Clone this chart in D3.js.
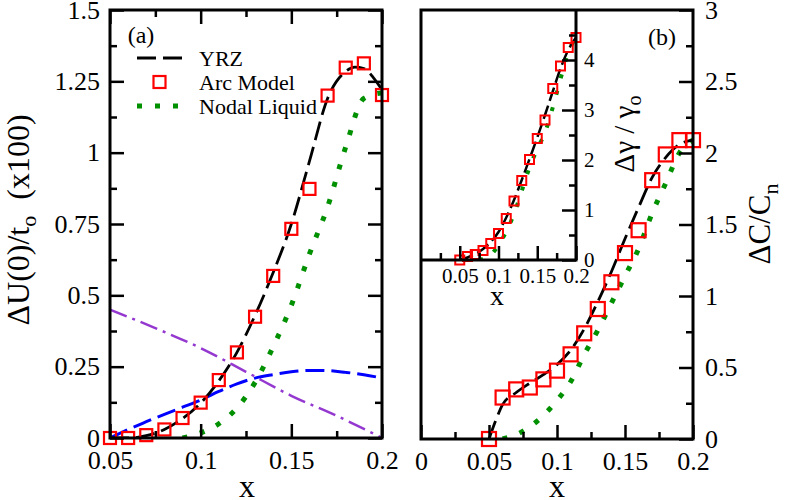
<!DOCTYPE html>
<html><head><meta charset="utf-8">
<script src="https://cdn.jsdelivr.net/npm/d3@7"></script>
<style>
body{margin:0;background:#fff;}
svg{display:block;font-family:"Liberation Serif","Times New Roman",serif;}
</style></head><body>
<svg id="c" width="789" height="500"></svg>
<script>
// ---------- data ----------
const xGrid = [0.05,0.06,0.07,0.08,0.09,0.10,0.11,0.12,0.13,0.14,0.15,0.16,0.17,0.18,0.19,0.20];

// panel (a)
const arcA = [0,0,0.01,0.03,0.07,0.124,0.203,0.30,0.425,0.568,0.733,0.873,1.20,1.298,1.313,1.202];
const yrzAx = [0.05,0.06,0.07,0.08,0.09,0.10,0.11,0.12,0.13,0.14,0.15,0.16,0.17,0.18,0.185,0.19,0.195,0.20];
const yrzAy = [0,0,0.008,0.03,0.068,0.122,0.20,0.30,0.43,0.58,0.75,0.97,1.19,1.285,1.30,1.295,1.265,1.22];
const nodAx = [0.09,0.10,0.11,0.12,0.13,0.14,0.15,0.16,0.17,0.18,0.19,0.20];
const nodAy = [0,0.018,0.05,0.105,0.195,0.32,0.465,0.645,0.81,1.02,1.19,1.21];
const blueA = [0,0.03,0.057,0.083,0.108,0.133,0.163,0.19,0.21,0.222,0.232,0.237,0.236,0.23,0.222,0.21];
const violAx = [0.05,0.075,0.10,0.125,0.15,0.175,0.20];
const violAy = [0.45,0.385,0.315,0.232,0.148,0.078,0.0];

// panel (b) main
const arcB = [0,0.29,0.347,0.36,0.417,0.478,0.592,0.739,0.909,1.096,1.30,1.46,1.81,1.99,2.09,2.09];
const yrzBx = [0.05,0.055,0.06,0.07,0.08,0.09,0.10,0.11,0.12,0.13,0.14,0.15,0.16,0.17,0.18,0.19,0.20];
const yrzBy = [0,0.13,0.24,0.325,0.39,0.45,0.52,0.62,0.77,0.96,1.17,1.40,1.62,1.83,1.97,2.06,2.09];
const nodBx = [0.06,0.07,0.08,0.09,0.10,0.11,0.12,0.13,0.14,0.15,0.16,0.17,0.18,0.19,0.20];
const nodBy = [0,0.03,0.085,0.165,0.27,0.40,0.59,0.76,0.95,1.14,1.33,1.58,1.79,2.0,2.09];

// panel (b) inset
const arcI = [0,0.07,0.11,0.19,0.33,0.53,0.83,1.18,1.59,2.01,2.43,2.80,3.43,3.88,4.25,4.45];
const yrzI = [0,0.05,0.12,0.22,0.36,0.56,0.85,1.20,1.60,2.02,2.45,2.90,3.37,3.83,4.20,4.45];
const nodIx = [0.075,0.08,0.09,0.10,0.11,0.12,0.13,0.14,0.15,0.16,0.17,0.18,0.19,0.20];
const nodIy = [0,0.02,0.10,0.30,0.57,0.92,1.38,1.85,2.22,2.55,3.05,3.62,4.15,4.45];

// ticks
const xTickA = [0.05,0.10,0.15,0.20], xMinA = [0.075,0.125,0.175];
const yTickA = [0,0.25,0.5,0.75,1,1.25,1.5], yMinA = [0.125,0.375,0.625,0.875,1.125,1.375];
const xTickB = [0,0.05,0.10,0.15,0.20], xMinB = [0.025,0.075,0.125,0.175];
const yTickB = [0,0.5,1,1.5,2,2.5,3], yMinB = [0.25,0.75,1.25,1.75,2.25,2.75];
const xTickI = [0.05,0.10,0.15,0.20], xMinI = [0.025,0.075,0.125,0.175];
const yTickI = [0,1,2,3,4], yMinI = [0.5,1.5,2.5,3.5,4.5];
const legendLabels = ["YRZ","Arc Model","Nodal Liquid"];

// ---------- drawing ----------
const svg = d3.select("#c");
const RED="#ff0000", GREEN="#009000", BLUE="#0000ff", VIOL="#9438d0";

const xa = d3.scaleLinear([0.05,0.2],[110,382]);
const ya = d3.scaleLinear([0,1.5],[438,10]);
const xb = d3.scaleLinear([0,0.2],[421,693]);
const yb = d3.scaleLinear([0,3],[439,10]);
const xi = d3.scaleLinear([0,0.2],[421,576]);
const yi = d3.scaleLinear([0,5],[260,10]);

const defs = svg.append("defs");
function clip(id,x0,y0,x1,y1){
  defs.append("clipPath").attr("id",id).append("rect")
    .attr("x",x0).attr("y",y0).attr("width",x1-x0).attr("height",y1-y0);
}
clip("ca",110,10,382,438); clip("cb",421,10,693,439); clip("ci",421,10,576,260);

function curve(g,xs,ys,sx,sy,color,w,dash,cap){
  const pts = xs.map((x,i)=>[x,ys[i]]);
  g.append("path").attr("d",d3.line().x(d=>sx(d[0])).y(d=>sy(d[1])).curve(d3.curveMonotoneX)(pts))
    .attr("fill","none").attr("stroke",color).attr("stroke-width",w)
    .attr("stroke-dasharray",dash).attr("stroke-linecap",cap||"butt");
}
function squares(g,xs,ys,sx,sy,s,w){
  g.selectAll(null).data(xs.map((x,i)=>[x,ys[i]])).enter().append("rect")
    .attr("x",d=>sx(d[0])-s/2).attr("y",d=>sy(d[1])-s/2).attr("width",s).attr("height",s)
    .attr("fill","none").attr("stroke",RED).attr("stroke-width",w);
}
const DASH="19,7", DOT="5,13", DASHDOT="18,6,3,6";

// panel (a) curves
const ga = svg.append("g").attr("clip-path","url(#ca)");
curve(ga,violAx,violAy,xa,ya,VIOL,2.5,DASHDOT);
curve(ga,xGrid,blueA,xa,ya,BLUE,3,DASH);
curve(ga,nodAx,nodAy,xa,ya,GREEN,5,DOT);
curve(ga,yrzAx,yrzAy,xa,ya,"#000",2.8,DASH);
squares(svg,xGrid,arcA,xa,ya,12,2.2);

// panel (b) curves
const gb = svg.append("g").attr("clip-path","url(#cb)");
curve(gb,nodBx,nodBy,xb,yb,GREEN,5,DOT);
curve(gb,yrzBx,yrzBy,xb,yb,"#000",2.8,DASH);
squares(svg,xGrid,arcB,xb,yb,14,2.2);

// inset
const gi = svg.append("g").attr("clip-path","url(#ci)");
curve(gi,nodIx,nodIy,xi,yi,GREEN,4,"4,13");
curve(gi,xGrid,yrzI,xi,yi,"#000",2.5,"14,5");
squares(svg,xGrid,arcI,xi,yi,9,2);

// axes
function ax(gen,tx,ty,fs){
  const g = svg.append("g").attr("transform",`translate(${tx},${ty})`).call(gen);
  g.select(".domain").remove();
  g.selectAll(".tick line").attr("stroke","#000").attr("stroke-width",2.5);
  g.attr("font-family",null).attr("font-size",fs||26);
  g.selectAll("text").attr("fill","#000");
  return g;
}
const fmt = d=>String(d);
// (a)
ax(d3.axisLeft(ya).tickValues(yTickA).tickSize(-14).tickPadding(10).tickFormat(fmt),110,0);
ax(d3.axisLeft(ya).tickValues(yMinA).tickSize(-7).tickFormat(""),110,0);
ax(d3.axisRight(ya).tickValues(yTickA).tickSize(-14).tickFormat(""),382,0);
ax(d3.axisRight(ya).tickValues(yMinA).tickSize(-7).tickFormat(""),382,0);
ax(d3.axisBottom(xa).tickValues(xTickA).tickSize(-14).tickPadding(13).tickFormat(fmt),0,438);
ax(d3.axisBottom(xa).tickValues(xMinA).tickSize(-7).tickFormat(""),0,438);
ax(d3.axisTop(xa).tickValues(xTickA).tickSize(-14).tickFormat(""),0,10);
ax(d3.axisTop(xa).tickValues(xMinA).tickSize(-7).tickFormat(""),0,10);
// (b)
ax(d3.axisRight(yb).tickValues(yTickB).tickSize(-14).tickPadding(12).tickFormat(fmt),693,0);
ax(d3.axisRight(yb).tickValues(yMinB).tickSize(-7).tickFormat(""),693,0);
ax(d3.axisBottom(xb).tickValues(xTickB).tickSize(-14).tickPadding(13).tickFormat(fmt),0,439);
ax(d3.axisBottom(xb).tickValues(xMinB).tickSize(-7).tickFormat(""),0,439);
// inset
ax(d3.axisRight(yi).tickValues(yTickI).tickSize(-14).tickPadding(8).tickFormat(fmt),576,0,21);
ax(d3.axisRight(yi).tickValues(yMinI).tickSize(-7).tickFormat(""),576,0);
ax(d3.axisBottom(xi).tickValues(xTickI).tickSize(-14).tickPadding(8).tickFormat(fmt),0,260,21);
ax(d3.axisBottom(xi).tickValues(xMinI).tickSize(-7).tickFormat(""),0,260);

// frames
svg.append("rect").attr("x",xa(0.05)).attr("y",ya(1.5)).attr("width",xa(0.2)-xa(0.05)).attr("height",ya(0)-ya(1.5))
  .attr("fill","none").attr("stroke","#000").attr("stroke-width",3);
svg.append("rect").attr("x",xb(0)).attr("y",yb(3)).attr("width",xb(0.2)-xb(0)).attr("height",yb(0)-yb(3))
  .attr("fill","none").attr("stroke","#000").attr("stroke-width",3);
svg.append("path").attr("d",`M${xi(0)},${yi(0)}H${xi(0.2)}V${yi(5)}`)
  .attr("fill","none").attr("stroke","#000").attr("stroke-width",3);

// legend (a)
const lg = svg.append("g").attr("font-size",22);
const lx0=137, lx1=182, lt=199, ly=[58,82,106];
lg.append("line").attr("x1",lx0).attr("x2",lx1).attr("y1",ly[0]).attr("y2",ly[0])
  .attr("stroke","#000").attr("stroke-width",2.8).attr("stroke-dasharray",DASH);
lg.append("rect").attr("x",(lx0+lx1)/2-6).attr("y",ly[1]-6).attr("width",12).attr("height",12)
  .attr("fill","none").attr("stroke",RED).attr("stroke-width",2.2);
lg.append("line").attr("x1",lx0).attr("x2",lx1+5).attr("y1",ly[2]).attr("y2",ly[2])
  .attr("stroke",GREEN).attr("stroke-width",5).attr("stroke-dasharray",DOT);
legendLabels.forEach((t,i)=>lg.append("text").attr("x",lt).attr("y",ly[i]).attr("dy","0.35em").text(t));

// panel labels
svg.append("text").attr("x",141).attr("y",35).attr("dy","0.35em").attr("text-anchor","middle").attr("font-size",24).text("(a)");
svg.append("text").attr("x",662).attr("y",37).attr("dy","0.35em").attr("text-anchor","middle").attr("font-size",24).text("(b)");

// axis titles
svg.append("text").attr("x",247).attr("y",497).attr("text-anchor","middle").attr("font-size",32).text("x");
svg.append("text").attr("x",557).attr("y",497).attr("text-anchor","middle").attr("font-size",32).text("x");
svg.append("text").attr("x",497).attr("y",305).attr("text-anchor","middle").attr("font-size",28).text("x");

const yl = svg.append("text").attr("transform","translate(29,220) rotate(-90)").attr("text-anchor","middle").attr("font-size",32);
yl.append("tspan").text("ΔU(0)/t");
yl.append("tspan").attr("font-size",22).attr("dy",7).text("o");
yl.append("tspan").attr("dy",-7).text("\u00a0\u00a0(x100)");

const yr = svg.append("text").attr("transform","translate(770,224) rotate(-90)").attr("text-anchor","middle").attr("font-size",31);
yr.append("tspan").text("ΔC/C");
yr.append("tspan").attr("font-size",22).attr("dy",8).text("n");

const yin = svg.append("text").attr("transform","translate(634,134) rotate(-90)").attr("text-anchor","middle").attr("font-size",29);
yin.append("tspan").text("Δγ / γ");
yin.append("tspan").attr("font-size",20).attr("dy",7).text("o");
</script>
</body></html>
